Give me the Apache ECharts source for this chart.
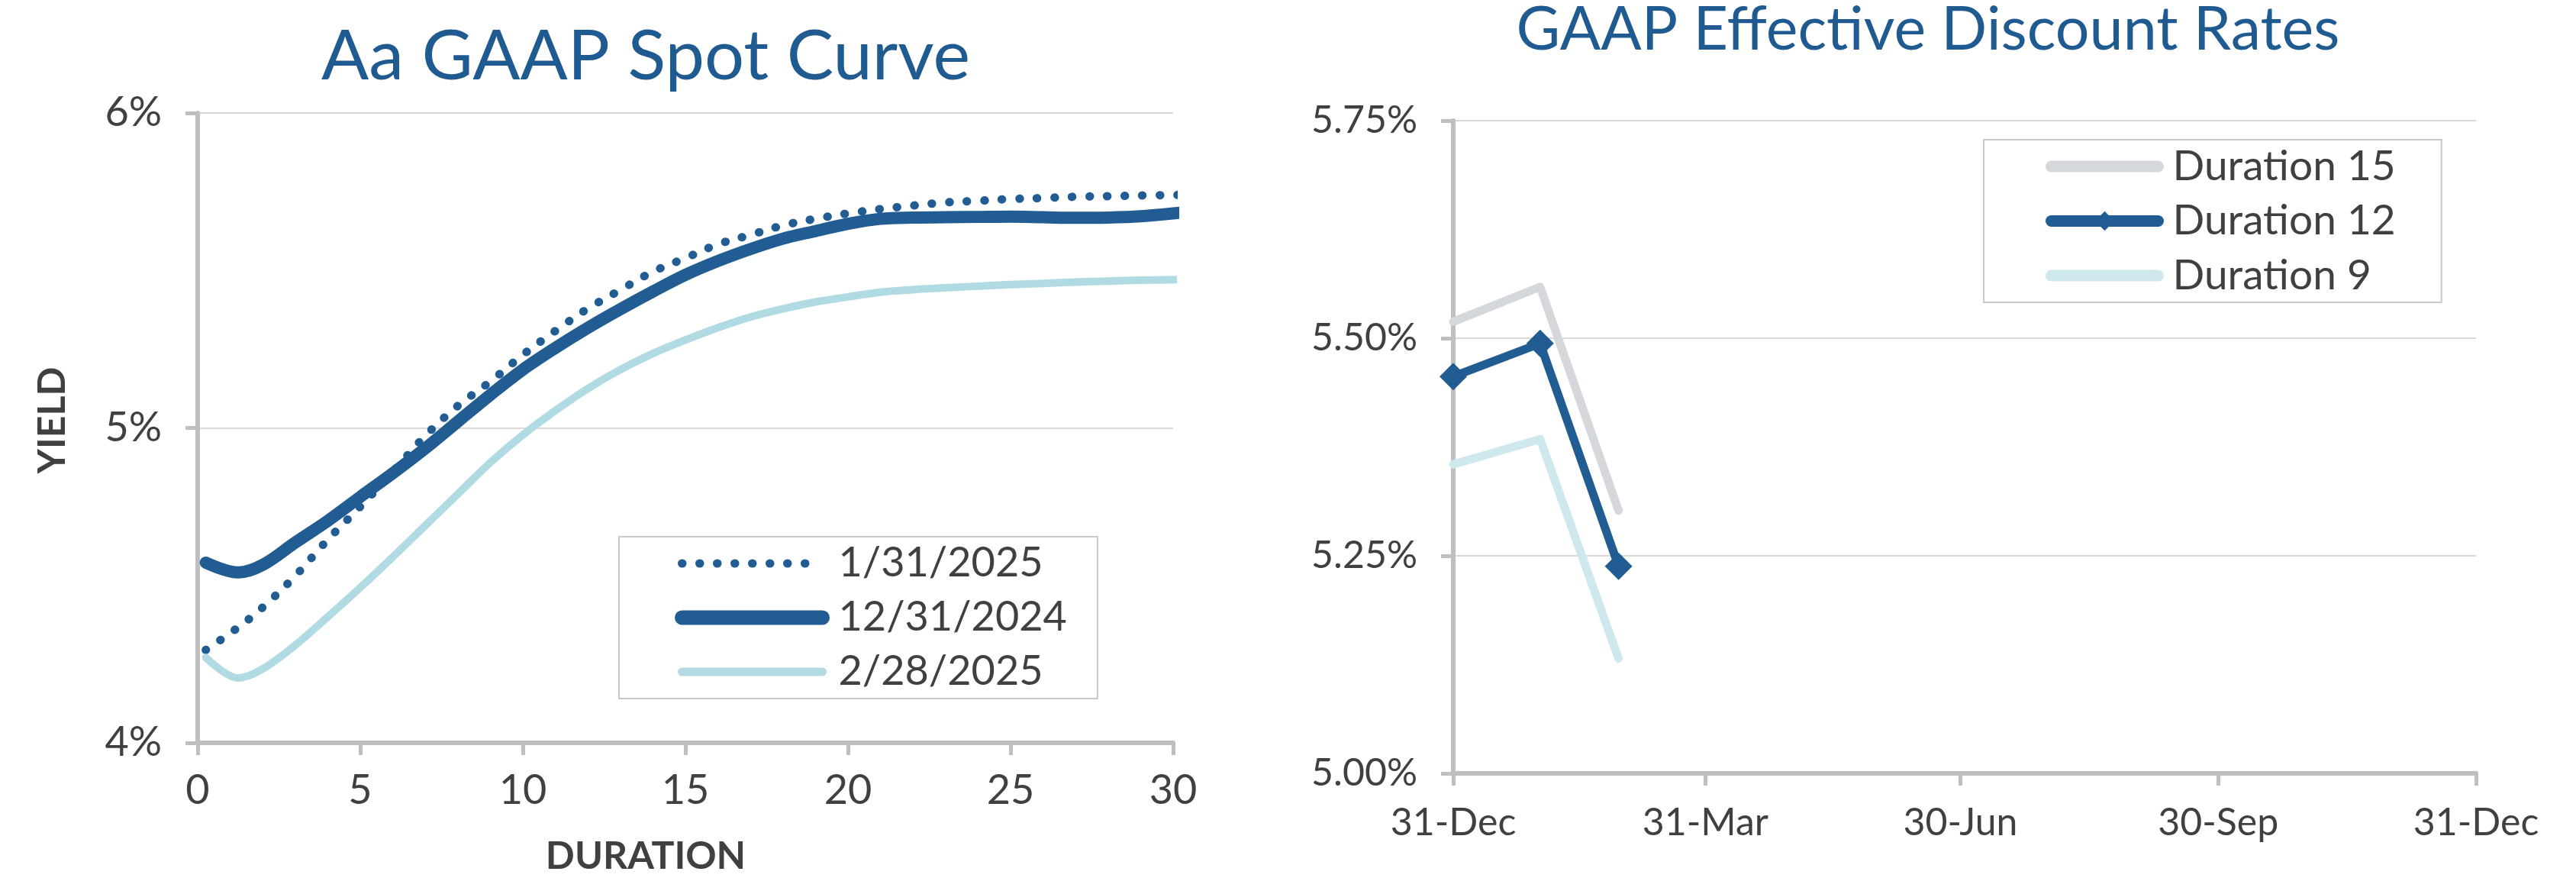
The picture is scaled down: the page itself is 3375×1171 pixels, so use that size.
<!DOCTYPE html>
<html>
<head>
<meta charset="utf-8">
<script src="https://cdn.jsdelivr.net/npm/echarts@6/dist/echarts.min.js"></script>
<style>
html,body{margin:0;padding:0;background:#ffffff;}
#c{width:3375px;height:1171px;}
</style>
</head>
<body>
<div id="c"></div>
<script>
// ---------- Left chart data: Aa GAAP Spot Curve ----------
const durations = [0.25, 1.25, 2, 3, 4, 5, 6, 7, 8, 9, 10, 11, 12, 13, 14, 15, 16, 17, 18, 19, 20, 21, 22, 23, 24, 25, 26, 27, 28, 29, 30.2];
const curveNames = ['1/31/2025', '12/31/2024', '2/28/2025'];
const yield20250131 = [4.295,4.367,4.43,4.53,4.645,4.75,4.86,4.975,5.07,5.147,5.232,5.308,5.379,5.438,5.496,5.539,5.583,5.613,5.643,5.664,5.681,5.695,5.706,5.716,5.721,5.727,5.730,5.734,5.736,5.738,5.740];
const yield20241231 = [4.572,4.541,4.565,4.636,4.705,4.781,4.856,4.935,5.02,5.105,5.185,5.254,5.318,5.377,5.433,5.486,5.530,5.568,5.601,5.625,5.648,5.664,5.668,5.669,5.670,5.671,5.669,5.667,5.668,5.672,5.683];
const yield20250228 = [4.271,4.206,4.235,4.31,4.40,4.493,4.59,4.69,4.79,4.89,4.978,5.055,5.125,5.185,5.236,5.279,5.318,5.352,5.378,5.40,5.416,5.431,5.439,5.445,5.450,5.455,5.459,5.463,5.466,5.469,5.471];

// ---------- Right chart data: GAAP Effective Discount Rates ----------
const rateDates = ['2024-12-31', '2025-01-31', '2025-02-28'];
const rateNames = ['Duration 15', 'Duration 12', 'Duration 9'];
const rateDuration15 = [5.519, 5.559, 5.302];
const rateDuration12 = [5.456, 5.494, 5.238];
const rateDuration9 = [5.355, 5.384, 5.132];
const tickDates = ['2024-12-31', '2025-03-31', '2025-06-30', '2025-09-30', '2025-12-31'];
const tickLabels = ['31-Dec', '31-Mar', '30-Jun', '30-Sep', '31-Dec'];

// ---------- helpers ----------
const baseDay = Date.parse(tickDates[0]);
const toDay = d => Math.round((Date.parse(d) - baseDay) / 86400000);
const tickDays = tickDates.map(toDay);
const pairs = (xs, ys) => xs.map((x, i) => [x, ys[i]]);

const DARK = '#215C92';
const LIGHT = '#B0DBE2';
const GRAY15 = '#D4D7DC';
const LIGHT9 = '#CFE8ED';
const AXIS = '#BFBFBF';
const GRID = '#D9D9D9';
const TEXT = '#404040';
const FONT = 'Lato';

const axisCommon = {
  axisLine: {show: true, lineStyle: {color: AXIS, width: 6}},
  axisTick: {show: true, length: 16, lineStyle: {color: AXIS, width: 5}},
};

const chart = echarts.init(document.getElementById('c'), null, {renderer: 'canvas'});
chart.setOption({
  animation: false,
  backgroundColor: '#ffffff',
  title: [
    {text: 'Aa GAAP Spot Curve', left: 846, top: 28, textAlign: 'center', padding: 0,
     textStyle: {fontFamily: FONT, fontSize: 92, fontWeight: 'normal', color: '#1F5A91'}},
    {text: 'GAAP Effective Discount Rates', left: 2526, top: 0, textAlign: 'center', padding: 0,
     textStyle: {fontFamily: FONT, fontSize: 79, fontWeight: 'normal', color: '#1F5A91'}}
  ],
  grid: [
    {left: 259, right: 1838, top: 148, bottom: 198, outerBoundsMode: 'none'},
    {left: 1904, right: 131, top: 158, bottom: 158, outerBoundsMode: 'none'}
  ],
  legend: [
    {
      orient: 'vertical', left: 811, top: 703, padding: [5, 40, 5, 73],
      itemWidth: 184, itemHeight: 24, itemGap: 11,
      borderColor: '#C9C9C9', borderWidth: 2, selectedMode: false,
      textStyle: {fontFamily: FONT, fontSize: 54, color: TEXT, lineHeight: 60, padding: [0, 0, 0, 16]},
      data: [
        {name: curveNames[0], lineStyle: {width: 11, type: [0.5, 22.5], cap: 'round', color: DARK}, itemStyle: {opacity: 0}},
        {name: curveNames[1], lineStyle: {width: 19, cap: 'round', color: DARK}, itemStyle: {opacity: 0}},
        {name: curveNames[2], lineStyle: {width: 11, cap: 'round', color: LIGHT}, itemStyle: {opacity: 0}}
      ]
    },
    {
      orient: 'vertical', left: 2599, top: 183, padding: [5, 60, 5, 81],
      itemWidth: 140, itemHeight: 32, itemGap: 11.5,
      borderColor: '#C9C9C9', borderWidth: 2, selectedMode: false,
      textStyle: {fontFamily: FONT, fontSize: 55, color: TEXT, lineHeight: 60, padding: [0, 0, 0, 14]},
      data: [
        {name: rateNames[0], lineStyle: {width: 15, cap: 'round', color: GRAY15}, itemStyle: {opacity: 0}},
        {name: rateNames[1], lineStyle: {width: 15, cap: 'round', color: DARK}},
        {name: rateNames[2], lineStyle: {width: 15, cap: 'round', color: LIGHT9}, itemStyle: {opacity: 0}}
      ]
    }
  ],
  xAxis: [
    Object.assign({}, axisCommon, {
      gridIndex: 0, type: 'value', min: 0, max: 30, interval: 5,
      splitLine: {show: false},
      axisLabel: {fontFamily: FONT, fontSize: 54, color: TEXT, margin: 36},
      name: 'DURATION', nameLocation: 'middle', nameGap: 124,
      nameTextStyle: {fontFamily: FONT, fontWeight: 'bold', fontSize: 50, color: TEXT, padding: [0, 104, 0, 0]}
    }),
    Object.assign({}, axisCommon, {
      gridIndex: 1, type: 'value', min: 0, max: tickDays[tickDays.length - 1],
      splitLine: {show: false},
      axisTick: {show: true, length: 16, lineStyle: {color: AXIS, width: 5}, customValues: tickDays},
      axisLabel: {fontFamily: FONT, fontSize: 50, color: TEXT, margin: 40, customValues: tickDays,
        formatter: v => { const i = tickDays.indexOf(Math.round(v)); return i >= 0 ? tickLabels[i] : ''; }}
    })
  ],
  yAxis: [
    Object.assign({}, axisCommon, {
      gridIndex: 0, type: 'value', min: 4, max: 6, interval: 1,
      splitLine: {show: true, lineStyle: {color: GRID, width: 2}},
      axisLabel: {fontFamily: FONT, fontSize: 54, color: TEXT, margin: 47, formatter: '{value}%'},
      name: 'YIELD', nameLocation: 'middle', nameGap: 165,
      nameTextStyle: {fontFamily: FONT, fontWeight: 'bold', fontSize: 50, color: TEXT, padding: [0, 0, 0, 20]}
    }),
    Object.assign({}, axisCommon, {
      gridIndex: 1, type: 'value', min: 5, max: 5.75, interval: 0.25,
      splitLine: {show: true, lineStyle: {color: GRID, width: 2}},
      axisLabel: {fontFamily: FONT, fontSize: 50, color: TEXT, margin: 47, formatter: v => v.toFixed(2) + '%'}
    })
  ],
  series: [
    {name: curveNames[0], type: 'line', xAxisIndex: 0, yAxisIndex: 0, data: pairs(durations, yield20250131),
     smooth: 0.35, symbol: 'none', clip: false, itemStyle: {color: DARK},
     lineStyle: {color: DARK, width: 11, type: [0.5, 22.5], cap: 'round'}},
    {name: curveNames[1], type: 'line', xAxisIndex: 0, yAxisIndex: 0, data: pairs(durations, yield20241231),
     smooth: 0.35, symbol: 'none', clip: false, itemStyle: {color: DARK},
     lineStyle: {color: DARK, width: 16, cap: 'round', join: 'round'}},
    {name: curveNames[2], type: 'line', xAxisIndex: 0, yAxisIndex: 0, data: pairs(durations, yield20250228),
     smooth: 0.35, symbol: 'none', clip: false, itemStyle: {color: LIGHT},
     lineStyle: {color: LIGHT, width: 10, cap: 'round', join: 'round'}},

    {name: rateNames[0], type: 'line', xAxisIndex: 1, yAxisIndex: 1, data: pairs(rateDates.map(toDay), rateDuration15),
     symbol: 'none', clip: false, itemStyle: {color: GRAY15},
     lineStyle: {color: GRAY15, width: 11, cap: 'round', join: 'round'}},
    {name: rateNames[1], type: 'line', xAxisIndex: 1, yAxisIndex: 1, data: pairs(rateDates.map(toDay), rateDuration12),
     symbol: 'diamond', symbolSize: 36, showSymbol: true, clip: false, itemStyle: {color: DARK},
     lineStyle: {color: DARK, width: 11, join: 'miter'}},
    {name: rateNames[2], type: 'line', xAxisIndex: 1, yAxisIndex: 1, data: pairs(rateDates.map(toDay), rateDuration9),
     symbol: 'none', clip: false, itemStyle: {color: LIGHT9},
     lineStyle: {color: LIGHT9, width: 11, cap: 'round', join: 'round'}}
  ]
});
</script>
</body>
</html>
